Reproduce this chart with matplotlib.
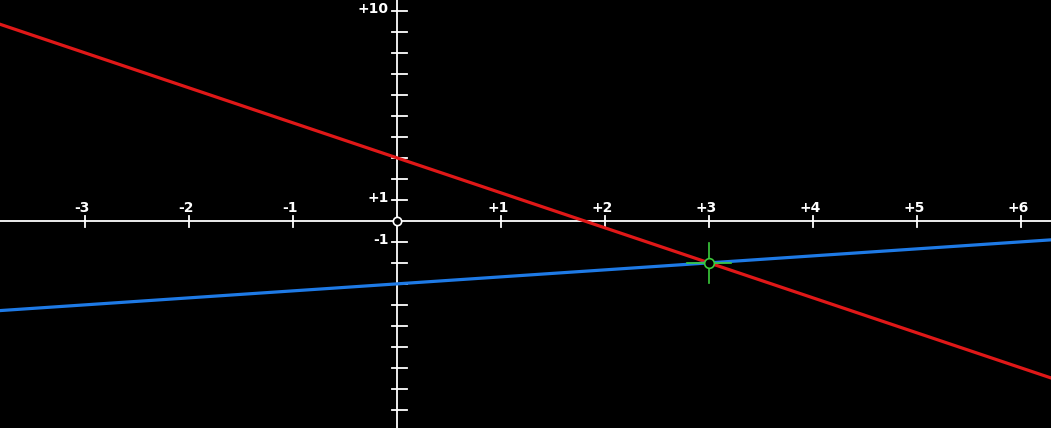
import matplotlib
matplotlib.use("Agg")
import matplotlib.pyplot as plt

# view window (data units)
x_min, x_max = -3.817, 6.288
y_min, y_max = -9.86, 10.52

# tick positions / labels
x_ticks = [-3, -2, -1, 1, 2, 3, 4, 5, 6]
x_labels = ["-3", "-2", "-1", "+1", "+2", "+3", "+4", "+5", "+6"]
y_ticks = [-9, -8, -7, -6, -5, -4, -3, -2, -1, 1, 2, 3, 4, 5, 6, 7, 8, 9, 10]
y_label_ticks = [10, 1, -1]
y_labels = ["+10", "+1", "-1"]

# the two lines (end points)
red_x = [-4.0, 6.5]
red_y = [9.67, -7.83]
blue_x = [-4.0, 6.5]
blue_y = [-4.33, -0.83]

# intersection point
cross_x = 3
cross_y = -2

fig = plt.figure(figsize=(10.51, 4.28), dpi=100, facecolor="black")
ax = fig.add_axes([0, 0, 1, 1])
ax.set_facecolor("black")
ax.set_xlim(x_min, x_max)
ax.set_ylim(y_min, y_max)
ax.axis("off")

# pixel -> data scale
px_x = (x_max - x_min) / 1051
px_y = (y_max - y_min) / 428

# axes
ax.axhline(0, color="white", lw=1.3, zorder=2)
ax.axvline(0, color="white", lw=1.3, zorder=2)

for t, lab in zip(x_ticks, x_labels):
    ax.plot([t, t], [5 * px_y, -6 * px_y], color="white", lw=1.3, zorder=2)
    ax.text(t - 3 * px_x, 6 * px_y, lab, color="white", fontsize=10,
            fontweight="bold", ha="center", va="bottom", zorder=3)

for t in y_ticks:
    ax.plot([-5 * px_x, 10 * px_x], [t, t], color="white", lw=1.3, zorder=2)
for t, lab in zip(y_label_ticks, y_labels):
    ax.text(-8 * px_x, t + 1.5 * px_y, lab, color="white", fontsize=10,
            fontweight="bold", ha="right", va="center", zorder=3)

# lines
ax.plot(red_x, red_y, color="#e01818", lw=2.3, zorder=4)
ax.plot(blue_x, blue_y, color="#1e7ae6", lw=2.3, zorder=4)

# origin marker
ax.plot(0, 0, marker="o", ms=6, mfc="black", mec="white", mew=1.2, zorder=6)

# intersection crosshair
ax.plot([cross_x, cross_x], [cross_y - 20 * px_y, cross_y + 20 * px_y],
        color="#3ccc3c", lw=1.2, zorder=5)
ax.plot([cross_x - 22 * px_x, cross_x + 22 * px_x], [cross_y, cross_y],
        color="#3ccc3c", lw=1.2, zorder=5)
ax.plot(cross_x, cross_y, marker="o", ms=7, mfc="black", mec="#3ccc3c",
        mew=1.2, zorder=6)

fig.savefig("out.png", dpi=100, facecolor="black")
